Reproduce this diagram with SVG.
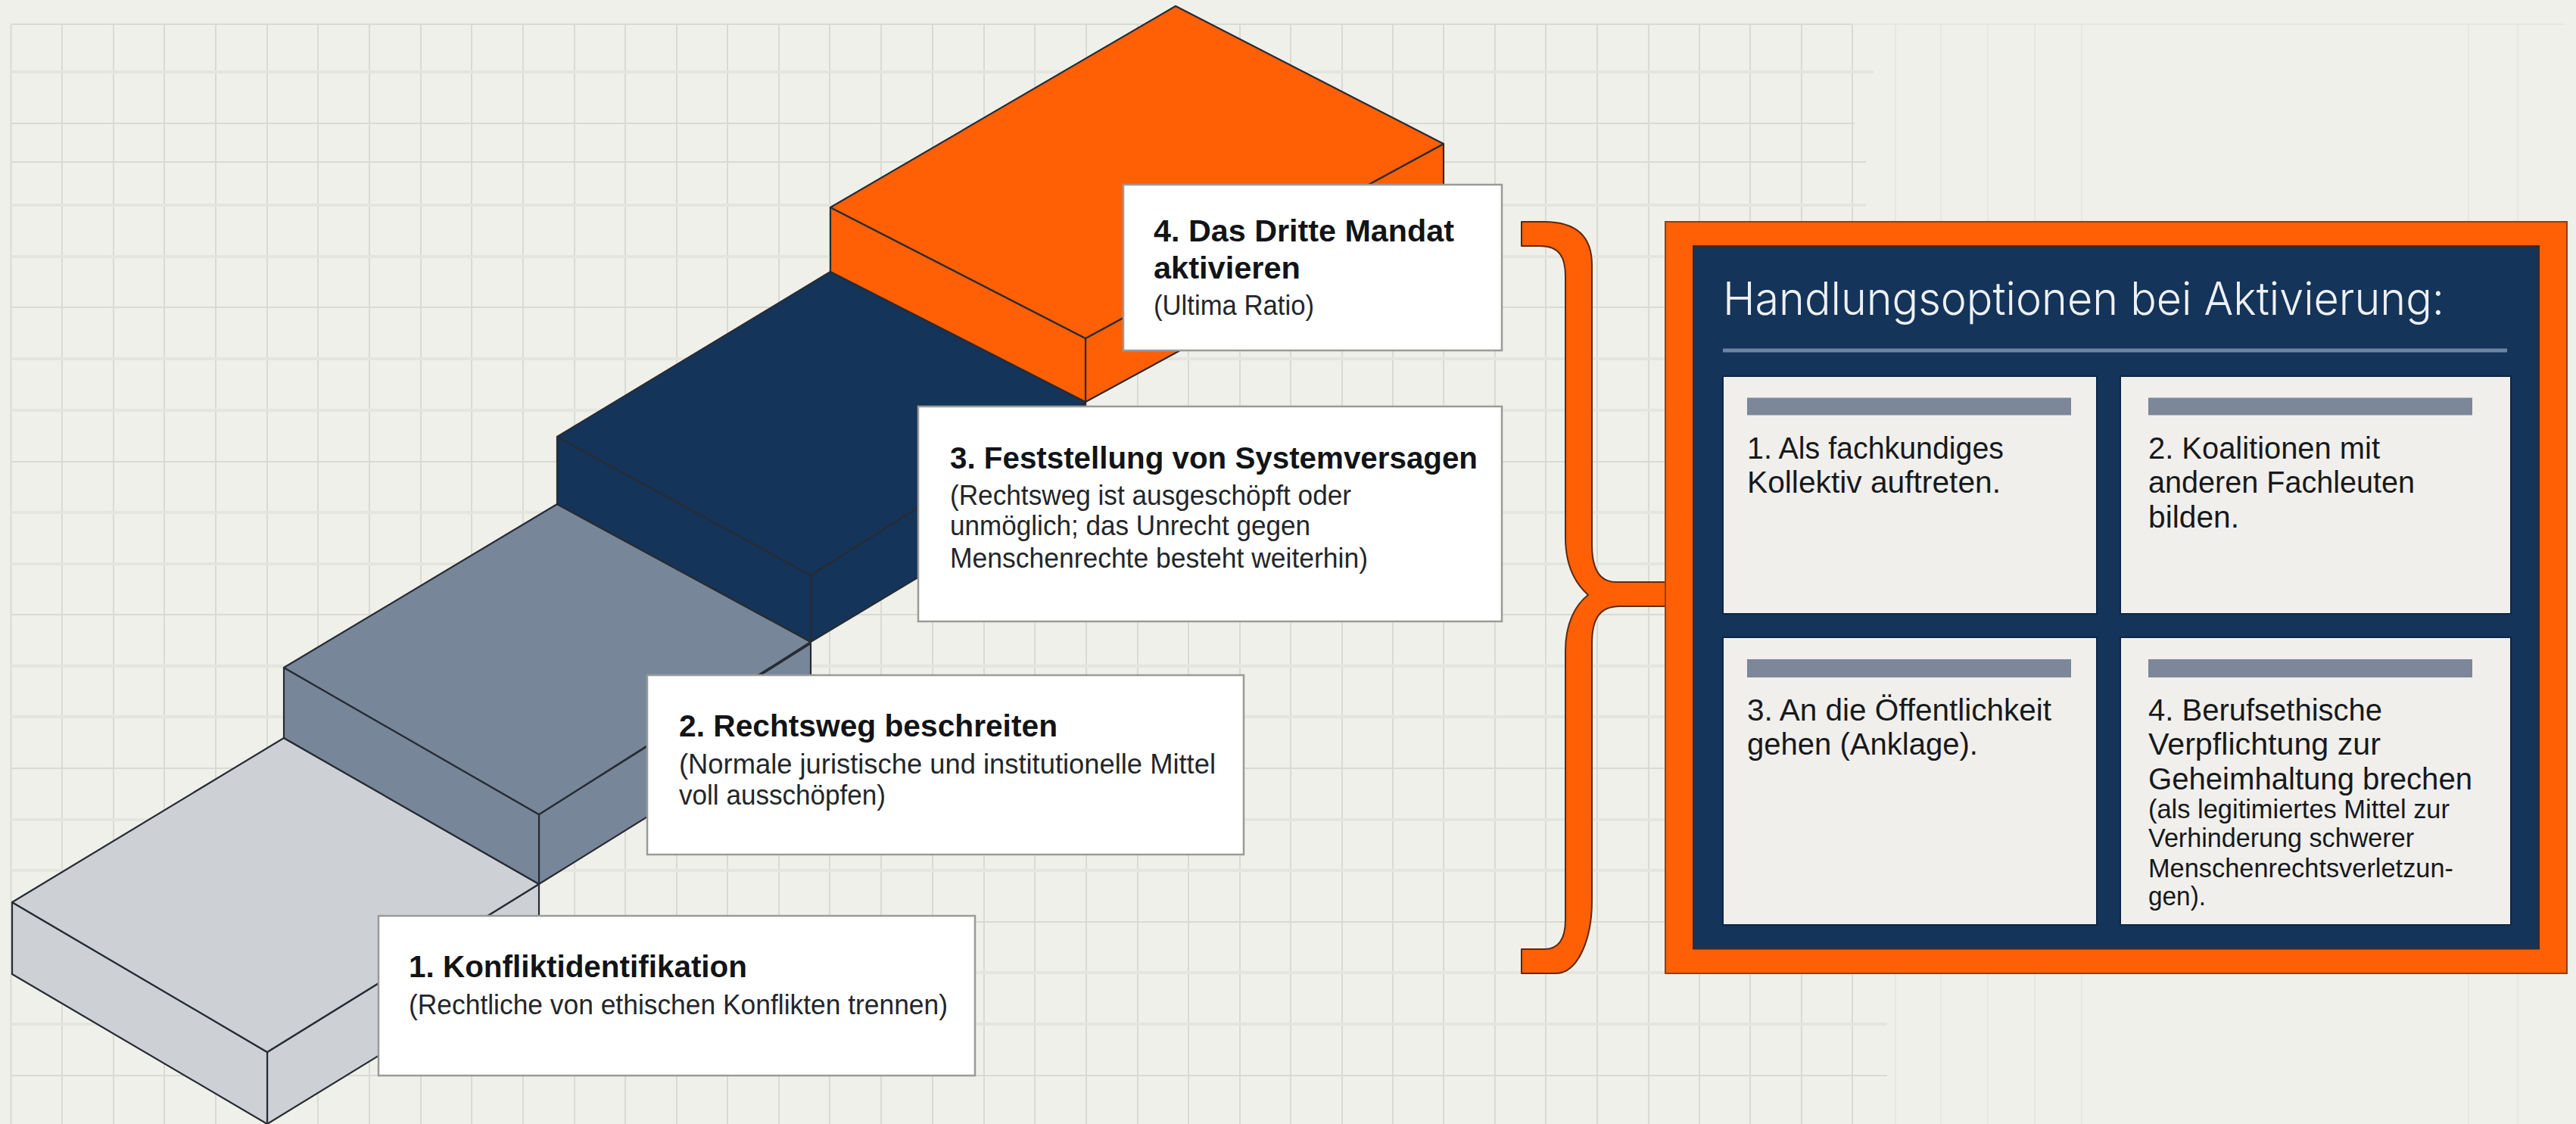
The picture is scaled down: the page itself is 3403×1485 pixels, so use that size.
<svg xmlns="http://www.w3.org/2000/svg" width="3403" height="1485" viewBox="0 0 3403 1485">
<style>
text{font-family:"Liberation Sans","Inter",Arial,sans-serif;fill:#121417}
.t{font-size:41px;font-weight:700}
.s{font-size:36px;font-weight:400;fill:#23262a}
.c{font-size:40px;font-weight:400;fill:#17191c}
.f{font-size:35px;font-weight:400;fill:#17191c}
.h{font-family:"Inter","Liberation Sans",sans-serif;font-size:60px;font-weight:300;fill:#eef0f2}
.e{stroke:#272c33;stroke-width:2.2;stroke-linejoin:round}
.lb{fill:#fff;stroke:#9a9a98;stroke-width:2.5}
.card{fill:#f0efeb;stroke:#0d2645;stroke-width:2}
.bar{fill:#7c8799}
.g1{fill:none;stroke:#dadad5;stroke-width:2}
.g2{fill:none;stroke:#e5e5e0;stroke-width:4}
.g3{fill:none;stroke:#e4e4df;stroke-width:1.5}
</style>
<rect width="3403" height="1485" fill="#f0f0eb"/>
<g id="grid">
<path class="g1" d="M14.5 32V1485M82 32V1485M150 32V1485M217 32V1485M285 32V1485M353 32V1485M420 32V1485M488 32V1485M556 32V1485M623 32V1485M691 32V1485M759 32V1485M826 32V1485M894 32V1485M961 32V1485M1029 32V1485M1096 32V1485M1164 32V1485M1232 32V1485M1300 32V1485M1367 32V1485M1435 32V1485M1503 32V1485M1570 32V1485M1638 32V1485M1705 32V1485M1773 32V1485M1840 32V1485M1907 32V1485M1975 32V1485M2042 32V1485M2110 32V1485M2178 32V1485M2245 32V1485M2312 32V1485M2380 32V1485M2447 32V1485"/>
<path class="g3" d="M2504 32V1485M2564 32V1485M2626 32V1485M2688 32V1485M2750 32V1485M3261 32V1485M3326 32V1485M2447 32H3387"/>
<path class="g1" d="M14.5 32H2447M14.5 163H2450M14.5 214H2465M14.5 406H2465M14.5 610H2465M14.5 812H2465M14.5 1015H2465M14.5 1218H2465M14.5 1421H2493"/>
<path class="g2" d="M14.5 95H2475M14.5 271H2465M14.5 339H2465M14.5 474H2465M14.5 542H2465M14.5 677H2465M14.5 745H2465M14.5 880H2465M14.5 947H2465M14.5 1083H2465M14.5 1150H2465M14.5 1285H2465M14.5 1353H2493"/>
</g>
<g id="step-1">
<path class="e" fill="#cdd1d6" d="M353 1390L712 1168V1265L353 1485Z"/>
<path class="e" fill="#cdd1d6" d="M16 1192L353 1390V1485L16 1287Z"/>
<path class="e" fill="#cdd1d6" d="M16 1192L375 975L712 1168L353 1390Z"/>
<rect class="lb" x="500" y="1210" width="788" height="211"/>
<text class="t" x="540" y="1291" textLength="447" lengthAdjust="spacingAndGlyphs">1. Konfliktidentifikation</text>
<text class="s" x="540" y="1340" textLength="712" lengthAdjust="spacingAndGlyphs">(Rechtliche von ethischen Konflikten trennen)</text>
</g>
<g id="step-2">
<path class="e" fill="#78869a" d="M712 1076L1071 850V945L712 1168Z"/>
<path class="e" fill="#78869a" d="M375 882L712 1076V1168L375 975Z"/>
<path class="e" fill="#78869a" d="M375 882L736 666L1071 848L712 1076Z"/>
<rect class="lb" x="855" y="892" width="788" height="237"/>
<text class="t" x="897" y="973" textLength="500" lengthAdjust="spacingAndGlyphs">2. Rechtsweg beschreiten</text>
<text class="s" x="897" y="1022" textLength="709" lengthAdjust="spacingAndGlyphs">(Normale juristische und institutionelle Mittel</text>
<text class="s" x="897" y="1063" textLength="273" lengthAdjust="spacingAndGlyphs">voll ausschöpfen)</text>
</g>
<g id="step-3">
<path class="e" fill="#14345a" d="M1071 760L1434 531V630L1071 848Z"/>
<path class="e" fill="#14345a" d="M736 577L1071 760V848L736 666Z"/>
<path class="e" fill="#14345a" d="M736 577L1097 359L1434 531L1071 760Z"/>
<rect class="lb" x="1213" y="537" width="771" height="284"/>
<text class="t" x="1255" y="619" textLength="697" lengthAdjust="spacingAndGlyphs">3. Feststellung von Systemversagen</text>
<text class="s" x="1255" y="667" textLength="530" lengthAdjust="spacingAndGlyphs">(Rechtsweg ist ausgeschöpft oder</text>
<text class="s" x="1255" y="707" textLength="476" lengthAdjust="spacingAndGlyphs">unmöglich; das Unrecht gegen</text>
<text class="s" x="1255" y="750" textLength="552" lengthAdjust="spacingAndGlyphs">Menschenrechte besteht weiterhin)</text>
</g>
<g id="step-4">
<path class="e" fill="#ff5f05" d="M1434 447L1907 190V274L1434 531Z"/>
<path class="e" fill="#ff5f05" d="M1097 274L1434 447V531L1097 359Z"/>
<path class="e" fill="#ff5f05" d="M1097 274L1553 8L1907 190L1434 447Z"/>
<rect class="lb" x="1484" y="244" width="500" height="219"/>
<text class="t" x="1524" y="319" textLength="397" lengthAdjust="spacingAndGlyphs">4. Das Dritte Mandat</text>
<text class="t" x="1524" y="368" textLength="194" lengthAdjust="spacingAndGlyphs">aktivieren</text>
<text class="s" x="1524" y="416" textLength="212" lengthAdjust="spacingAndGlyphs">(Ultima Ratio)</text>
</g>
<g id="connectors">
<path fill="#ff5f05" stroke="#5c2a10" stroke-width="2" stroke-linejoin="round" d="M2010 293L2040 293C2080 293 2103 310 2103 350L2103 720C2103 750 2112 769 2135 769L2200 769L2200 801L2140 801C2115 801 2103 815 2103 850L2103 1190C2103 1240 2085 1286 2055 1286L2010 1286L2010 1254L2040 1254C2060 1254 2068 1240 2068 1215L2068 860C2068 825 2080 800 2098 786C2080 770 2068 745 2068 710L2068 365C2068 340 2060 325 2035 325L2010 325Z"/>
</g>
<g id="panel">
<rect x="2200" y="293" width="1191" height="993" fill="#ff5f05" stroke="#8a4315" stroke-width="2"/>
<rect x="2237" y="325" width="1117" height="928.500" fill="#14345a" stroke="#3b2a2a" stroke-width="2"/>
<text class="h" x="2276" y="416" textLength="953" lengthAdjust="spacingAndGlyphs">Handlungsoptionen bei Aktivierung:</text>
<rect x="2276" y="460.500" width="1036" height="5" fill="#6f86a3"/>
</g>
<g id="option-1">
<rect class="card" x="2276" y="497" width="494" height="314"/>
<rect class="bar" x="2308" y="525.500" width="428" height="23"/>
<text class="c" x="2308" y="606" textLength="339" lengthAdjust="spacingAndGlyphs">1. Als fachkundiges</text>
<text class="c" x="2308" y="651" textLength="335" lengthAdjust="spacingAndGlyphs">Kollektiv auftreten.</text>
</g>
<g id="option-2">
<rect class="card" x="2801" y="497" width="516" height="314"/>
<rect class="bar" x="2838" y="525.500" width="428" height="23"/>
<text class="c" x="2838" y="606" textLength="306" lengthAdjust="spacingAndGlyphs">2. Koalitionen mit</text>
<text class="c" x="2838" y="651" textLength="352" lengthAdjust="spacingAndGlyphs">anderen Fachleuten</text>
<text class="c" x="2838" y="697" textLength="120" lengthAdjust="spacingAndGlyphs">bilden.</text>
</g>
<g id="option-3">
<rect class="card" x="2276" y="842" width="494" height="380"/>
<rect class="bar" x="2308" y="871" width="428" height="24"/>
<text class="c" x="2308" y="952" textLength="402" lengthAdjust="spacingAndGlyphs">3. An die Öffentlichkeit</text>
<text class="c" x="2308" y="997" textLength="305" lengthAdjust="spacingAndGlyphs">gehen (Anklage).</text>
</g>
<g id="option-4">
<rect class="card" x="2801" y="842" width="516" height="380"/>
<rect class="bar" x="2838" y="871" width="428" height="24"/>
<text class="c" x="2838" y="952" textLength="309" lengthAdjust="spacingAndGlyphs">4. Berufsethische</text>
<text class="c" x="2838" y="997" textLength="307" lengthAdjust="spacingAndGlyphs">Verpflichtung zur</text>
<text class="c" x="2838" y="1043" textLength="428" lengthAdjust="spacingAndGlyphs">Geheimhaltung brechen</text>
<text class="f" x="2838" y="1081" textLength="398" lengthAdjust="spacingAndGlyphs">(als legitimiertes Mittel zur</text>
<text class="f" x="2838" y="1119" textLength="351" lengthAdjust="spacingAndGlyphs">Verhinderung schwerer</text>
<text class="f" x="2838" y="1159" textLength="403" lengthAdjust="spacingAndGlyphs">Menschenrechtsverletzun-</text>
<text class="f" x="2838" y="1196" textLength="76" lengthAdjust="spacingAndGlyphs">gen).</text>
</g>
</svg>
